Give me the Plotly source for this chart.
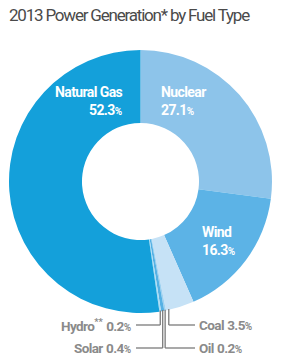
import math
import plotly.graph_objects as go

# ---- data ----
fuels = ["Nuclear", "Wind", "Coal", "Oil", "Solar", "Hydro", "Natural Gas"]
shares = [27.1, 16.3, 3.5, 0.2, 0.4, 0.2, 52.3]
colors = ["#8dc4ea", "#5cb3e6", "#c6e2f6", "#9fd2f1", "#55b1e4", "#a8dcf4", "#14a0da"]
title_text = "2013 Power Generation* by Fuel Type"

W, H = 290, 360
ML, MR, MT, MB = 9, 18, 50, 47
PW, PH = W - ML - MR, H - MT - MB
CX, CY, R = ML + PW / 2, MT + PH / 2, PW / 2


def px(x):
    return (x - ML) / PW


def py(y):
    return 1 - (y - MT) / PH


def tight(s, ls):
    return "<span style='letter-spacing:%spx'>%s</span>" % (ls, s)


fig = go.Figure(go.Pie(
    labels=fuels, values=shares, sort=False, direction="clockwise", rotation=0,
    hole=0.445, marker=dict(colors=colors, line=dict(width=0)),
    textinfo="none", hoverinfo="skip", showlegend=False,
))

total = sum(shares)
cum = [0]
for v in shares:
    cum.append(cum[-1] + v)


def slice_point(i, frac):
    ang = (cum[i] + frac * shares[i]) / total * 2 * math.pi
    return CX + R * math.sin(ang), CY - R * math.cos(ang)


FAM = "Roboto, Liberation Sans, Arial"
pct = "<span style='font-size:10px'>%</span>"
big_font = dict(family=FAM, size=14, color="white")
ann = []


def big_label(i, name):
    return "<b>%s</b><br><b>%s%s</b>" % (tight(name, -0.6), tight("%.1f" % shares[i], -0.6), pct)


ann.append(dict(x=px(125), y=py(101), xref="paper", yref="paper", xanchor="right", yanchor="middle",
                align="right", showarrow=False, font=big_font, text=big_label(6, "Natural Gas")))
ann.append(dict(x=px(159), y=py(101), xref="paper", yref="paper", xanchor="left", yanchor="middle",
                align="left", showarrow=False, font=big_font, text=big_label(0, "Nuclear")))
ann.append(dict(x=px(200), y=py(241), xref="paper", yref="paper", xanchor="left", yanchor="middle",
                align="left", showarrow=False, font=big_font, text=big_label(1, "Wind")))

# title
ann.append(dict(x=px(7), y=py(15), xref="paper", yref="paper", xanchor="left", yanchor="middle",
                showarrow=False, text=tight(title_text, -1.2),
                font=dict(family=FAM, size=17, color="#4a4a4a")))

small_font = dict(family=FAM, size=13.5, color="#8a8a8a")
shapes = []
callouts = [
    (5, 0.5, 325, "left"),
    (4, 0.5, 348, "left"),
    (3, 0.5, 348, "right"),
    (2, 0.9, 325, "right"),
]
line_style = dict(color="#7a7a7a", width=1.3)
for i, frac, ly, side in callouts:
    x0, y0 = slice_point(i, frac)
    shapes.append(dict(type="line", xref="paper", yref="paper", x0=px(x0), y0=py(y0 - 1),
                       x1=px(x0), y1=py(ly), line=line_style))
    name = tight(fuels[i], -0.6) + ("<sup>**</sup>" if fuels[i] == "Hydro" else "")
    label = "<b>%s %s%s</b>" % (name, tight("%.1f" % shares[i], -0.6), pct)
    if side == "left":
        shapes.append(dict(type="line", xref="paper", yref="paper", x0=px(136), y0=py(ly),
                           x1=px(x0), y1=py(ly), line=line_style))
        ann.append(dict(x=px(133), y=py(ly), xref="paper", yref="paper", xanchor="right",
                        yanchor="middle", showarrow=False, text=label, font=small_font))
    else:
        shapes.append(dict(type="line", xref="paper", yref="paper", x0=px(x0), y0=py(ly),
                           x1=px(195), y1=py(ly), line=line_style))
        ann.append(dict(x=px(197), y=py(ly), xref="paper", yref="paper", xanchor="left",
                        yanchor="middle", showarrow=False, text=label, font=small_font))

fig.update_layout(
    width=W, height=H, margin=dict(l=ML, r=MR, t=MT, b=MB),
    paper_bgcolor="white", plot_bgcolor="white",
    annotations=ann, shapes=shapes,
)
fig.write_html("out.html", config={"displayModeBar": False})
